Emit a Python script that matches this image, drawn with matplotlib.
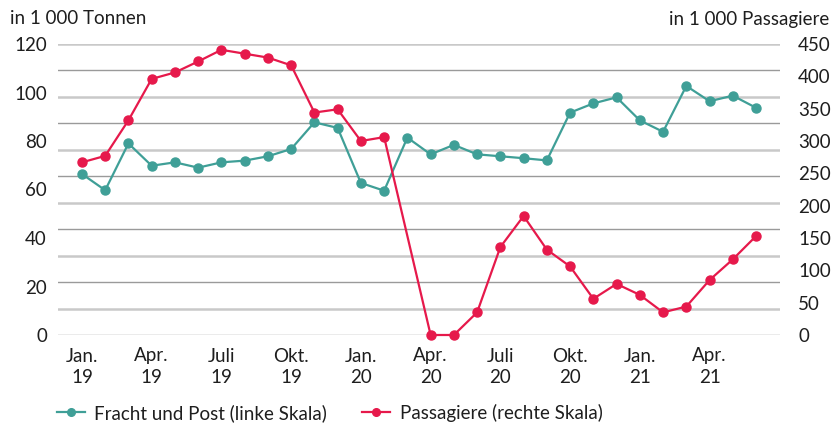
import matplotlib
matplotlib.use("Agg")
import matplotlib.pyplot as plt
import numpy as np
from matplotlib.lines import Line2D

plt.rcParams['font.family'] = ['Lato', 'DejaVu Sans']

months = ["Jan. 19", "Feb. 19", "Mär. 19", "Apr. 19", "Mai 19", "Juni 19", "Juli 19", "Aug. 19",
          "Sep. 19", "Okt. 19", "Nov. 19", "Dez. 19", "Jan. 20", "Feb. 20", "Mär. 20", "Apr. 20",
          "Mai 20", "Juni 20", "Juli 20", "Aug. 20", "Sep. 20", "Okt. 20", "Nov. 20", "Dez. 20",
          "Jan. 21", "Feb. 21", "Mär. 21", "Apr. 21", "Mai 21", "Juni 21"]

fracht = [66.4, 59.7, 79.0, 69.8, 71.2, 69.0, 71.2, 71.9, 73.7, 76.7, 87.7, 85.4,
          62.7, 59.5, 81.4, 74.5, 78.4, 74.5, 73.7, 72.9, 72.0, 91.7, 95.5, 98.0,
          88.5, 83.8, 102.7, 96.4, 98.7, 93.7]

passagiere = [267, 277, 332, 396, 406, 423, 441, 435, 429, 417, 344, 349,
              300, 306, None, 0, 0, 35, 136, 184, 132, 106, 56, 79,
              62, 35, 44, 85, 117, 153]

tick_labels = ["Jan.\n19", "Apr.\n19", "Juli\n19", "Okt.\n19", "Jan.\n20", "Apr.\n20",
               "Juli\n20", "Okt.\n20", "Jan.\n21", "Apr.\n21"]
left_ticks = [0, 20, 40, 60, 80, 100, 120]
right_ticks = [0, 50, 100, 150, 200, 250, 300, 350, 400, 450]

teal = "#3f9f97"
red = "#e6194b"
txt = "#1e1e1e"
fs = 13.5

W, H = 831, 424
fig = plt.figure(figsize=(W / 100, H / 100), dpi=100)
ax = fig.add_axes([58 / W, 1 - 335 / H, (780 - 58) / W, (335 - 44) / H])
ax2 = ax.twinx()

x = np.arange(len(months))
ax.set_xlim(-1.03, 30.03)
ax.set_ylim(0, 120)
ax2.set_ylim(0, 450)

# gridlines: 11 equal intervals, alternating light / dark
for k in range(12):
    yv = 120 * k / 11
    if (11 - k) % 2 == 0:
        ax.axhline(yv, color="#c9c9c9", lw=1.8, zorder=0)
    else:
        ax.axhline(yv, color="#9a9a9a", lw=1.0, zorder=0)

ax.plot(x, fracht, color=teal, lw=1.6, marker="o", ms=6.5, zorder=3, clip_on=False)
px = [i for i, v in enumerate(passagiere) if v is not None]
pv = [v for v in passagiere if v is not None]
ax2.plot(px, pv, color=red, lw=1.6, marker="o", ms=6.5, zorder=3, clip_on=False)

for a in (ax, ax2):
    for s in a.spines.values():
        s.set_visible(False)
    a.tick_params(length=0, labelsize=fs, colors=txt)

ax.set_xticks(x[::3])
ax.set_xticklabels(tick_labels, linespacing=1.3)
ax.tick_params(axis="x", pad=9)
ax.set_yticks(left_ticks)
ax.set_yticklabels([str(v) for v in left_ticks])
ax.tick_params(axis="y", pad=8)
ax2.set_yticks(right_ticks)
ax2.set_yticklabels([str(v) for v in right_ticks])
ax2.tick_params(axis="y", pad=13)

fig.text(10 / W, 1 - 19 / H, "in 1 000 Tonnen", fontsize=fs, color=txt, ha="left", va="center")
fig.text(829 / W, 1 - 19 / H, "in 1 000 Passagiere", fontsize=fs, color=txt, ha="right", va="center")

handles = [Line2D([], [], color=teal, lw=1.6, marker="o", ms=5.5),
           Line2D([], [], color=red, lw=1.6, marker="o", ms=5.5)]
fig.legend(handles, ["Fracht und Post (linke Skala)", "Passagiere (rechte Skala)"],
           loc="center left", bbox_to_anchor=(57 / W, 1 - 413 / H), ncol=2, frameon=False,
           fontsize=fs, handlelength=1.5, handletextpad=0.5, columnspacing=1.85,
           labelcolor=txt, borderpad=0, borderaxespad=0)

fig.savefig("out.png", dpi=100)
